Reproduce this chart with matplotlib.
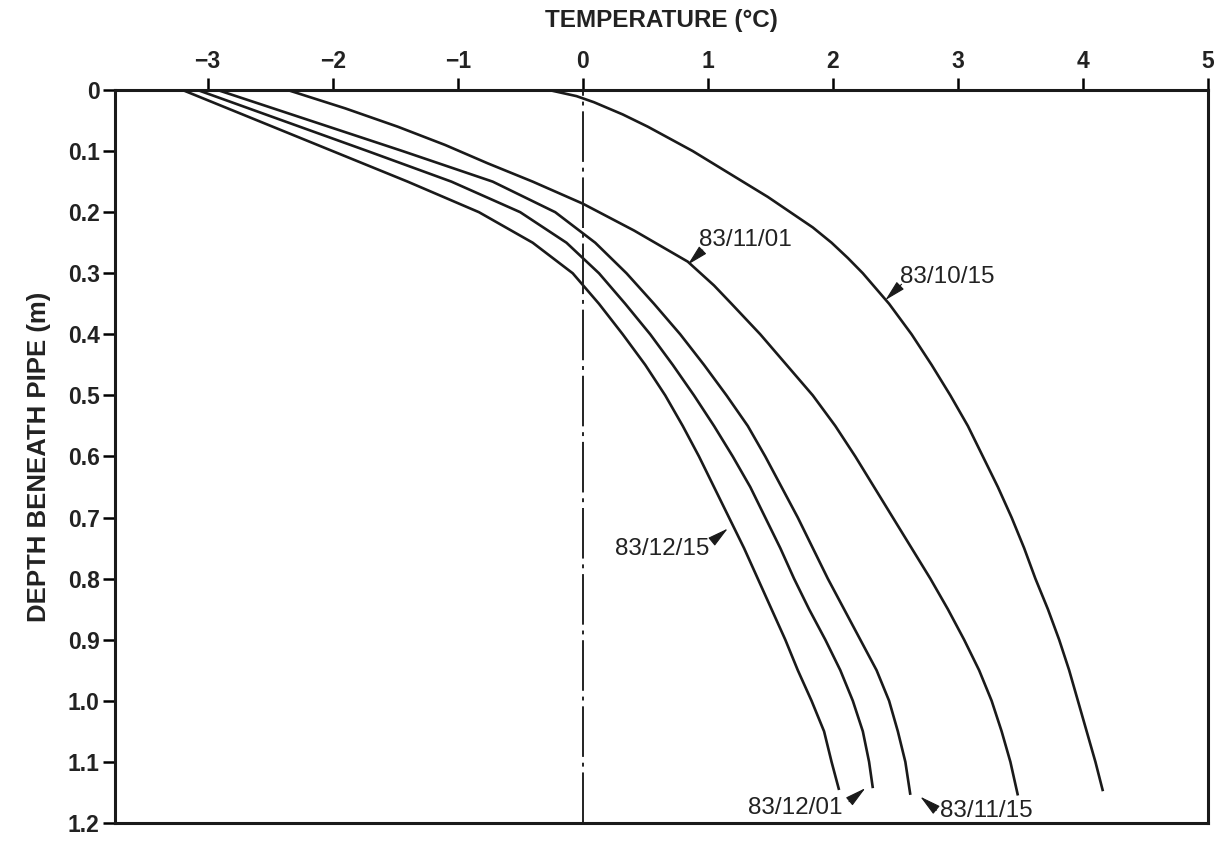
import numpy as np
import matplotlib
matplotlib.use("Agg")
import matplotlib.pyplot as plt

plt.rcParams['font.family'] = ['Liberation Sans', 'DejaVu Sans']

# depth beneath pipe (m) and temperature (deg C)
d_1015 = [0.0, 0.01, 0.02, 0.04, 0.06, 0.08, 0.10, 0.125, 0.15, 0.175, 0.20, 0.225, 0.25,
          0.275, 0.30, 0.35, 0.40, 0.45, 0.50, 0.55, 0.60, 0.65, 0.70, 0.75, 0.80, 0.85,
          0.90, 0.95, 1.00, 1.05, 1.10, 1.148]
t_1015 = [-0.27, -0.05, 0.09, 0.32, 0.52, 0.70, 0.88, 1.08, 1.28, 1.48, 1.66, 1.84, 1.99,
          2.12, 2.24, 2.45, 2.63, 2.79, 2.94, 3.08, 3.20, 3.32, 3.43, 3.53, 3.62, 3.72,
          3.81, 3.89, 3.96, 4.03, 4.10, 4.16]

d_1101 = [0.0, 0.03, 0.06, 0.09, 0.12, 0.15, 0.186, 0.23, 0.281, 0.32, 0.35, 0.40, 0.45,
          0.50, 0.55, 0.60, 0.65, 0.70, 0.75, 0.80, 0.85, 0.90, 0.95, 1.00, 1.05, 1.10, 1.155]
t_1101 = [-2.36, -1.90, -1.48, -1.10, -0.76, -0.40, 0.0, 0.41, 0.84, 1.05, 1.19, 1.42, 1.63,
          1.84, 2.02, 2.18, 2.33, 2.48, 2.63, 2.78, 2.92, 3.05, 3.17, 3.27, 3.35, 3.42, 3.48]

d_1115 = [0.0, 0.05, 0.10, 0.15, 0.20, 0.25, 0.30, 0.35, 0.40, 0.45, 0.50, 0.55, 0.60,
          0.65, 0.70, 0.75, 0.80, 0.85, 0.90, 0.95, 1.00, 1.05, 1.10, 1.154]
t_1115 = [-2.92, -2.18, -1.44, -0.72, -0.22, 0.10, 0.35, 0.57, 0.78, 0.97, 1.15, 1.32, 1.46,
          1.59, 1.72, 1.84, 1.96, 2.09, 2.22, 2.35, 2.45, 2.52, 2.58, 2.62]

d_1201 = [0.0, 0.05, 0.10, 0.15, 0.20, 0.25, 0.30, 0.35, 0.40, 0.45, 0.50, 0.55, 0.60,
          0.65, 0.70, 0.75, 0.80, 0.85, 0.90, 0.95, 1.00, 1.05, 1.10, 1.143]
t_1201 = [-3.08, -2.40, -1.72, -1.05, -0.50, -0.13, 0.13, 0.34, 0.54, 0.72, 0.89, 1.05, 1.20,
          1.34, 1.46, 1.58, 1.69, 1.81, 1.94, 2.06, 2.16, 2.24, 2.29, 2.32]

d_1215 = [0.0, 0.05, 0.10, 0.15, 0.20, 0.25, 0.30, 0.35, 0.40, 0.45, 0.50, 0.55, 0.60,
          0.65, 0.70, 0.75, 0.80, 0.85, 0.90, 0.95, 1.00, 1.05, 1.10, 1.146]
t_1215 = [-3.20, -2.60, -2.00, -1.40, -0.83, -0.40, -0.08, 0.13, 0.32, 0.50, 0.66, 0.80, 0.93,
          1.05, 1.17, 1.29, 1.40, 1.51, 1.62, 1.72, 1.83, 1.93, 1.99, 2.05]

depths = [d_1015, d_1101, d_1115, d_1201, d_1215]
temps = [t_1015, t_1101, t_1115, t_1201, t_1215]

# label text, arrow tip, arrow tail, text anchor, alignment
labels = ['83/10/15', '83/11/01', '83/12/15', '83/12/01', '83/11/15']
tips = [(2.42, 0.344), (0.84, 0.286), (1.16, 0.718), (2.26, 1.143), (2.70, 1.157)]
tails = [(2.55, 0.318), (0.96, 0.262), (1.04, 0.738), (2.13, 1.165), (2.83, 1.179)]
text_pos = [(2.54, 0.306), (0.93, 0.246), (1.01, 0.752), (2.08, 1.176), (2.86, 1.180)]
text_ha = ['left', 'left', 'right', 'right', 'left']

xticks = [-3, -2, -1, 0, 1, 2, 3, 4, 5]
xticklabels = ['\u22123', '\u22122', '\u22121', '0', '1', '2', '3', '4', '5']
yticks = np.round(np.arange(0, 1.21, 0.1), 1)
yticklabels = ['0', '0.1', '0.2', '0.3', '0.4', '0.5', '0.6', '0.7', '0.8', '0.9', '1.0', '1.1', '1.2']

fig = plt.figure(figsize=(12.25, 8.42), dpi=100)
ax = fig.add_axes([0.0939, 0.0226, 0.8922, 0.8705])

for d, t in zip(depths, temps):
    ax.plot(t, d, color='#1a1a1a', lw=1.9, solid_capstyle='butt', solid_joinstyle='round')

# 0 deg C reference line
ax.axvline(0, color='#222222', lw=1.4, linestyle=(0, (26, 3, 2, 3)))

for lab, tip, tail, tp, ha in zip(labels, tips, tails, text_pos, text_ha):
    ax.annotate('', xy=tip, xytext=tail,
                arrowprops=dict(arrowstyle='-|>,head_length=1.3,head_width=0.32',
                                mutation_scale=10, color='#1a1a1a', lw=0.8,
                                shrinkA=0, shrinkB=0))
    ax.text(tp[0], tp[1], lab, ha=ha, va='center', fontsize=17.5, color='#222222')

ax.set_xlim(-3.74, 5.0)
ax.set_ylim(1.2, 0.0)

ax.xaxis.tick_top()
ax.xaxis.set_label_position('top')
ax.set_xticks(xticks)
ax.set_xticklabels(xticklabels)
ax.set_yticks(yticks)
ax.set_yticklabels(yticklabels)
ax.tick_params(axis='x', direction='out', length=9, width=1.8, pad=3, labelsize=16.5,
               top=True, bottom=False)
ax.tick_params(axis='y', direction='out', length=9, width=1.8, pad=2, labelsize=16.5,
               left=True, right=False)
for lab in ax.get_xticklabels() + ax.get_yticklabels():
    lab.set_fontweight('bold')
    lab.set_color('#222222')

for sp in ax.spines.values():
    sp.set_linewidth(2.2)
    sp.set_color('#1a1a1a')

ax.set_xlabel('TEMPERATURE (\u00b0C)', fontsize=17.5, fontweight='bold', color='#222222', labelpad=17)
ax.set_ylabel('DEPTH BENEATH PIPE (m)', fontsize=18.5, fontweight='bold', color='#222222', labelpad=12)

fig.savefig('out.png', dpi=100)
